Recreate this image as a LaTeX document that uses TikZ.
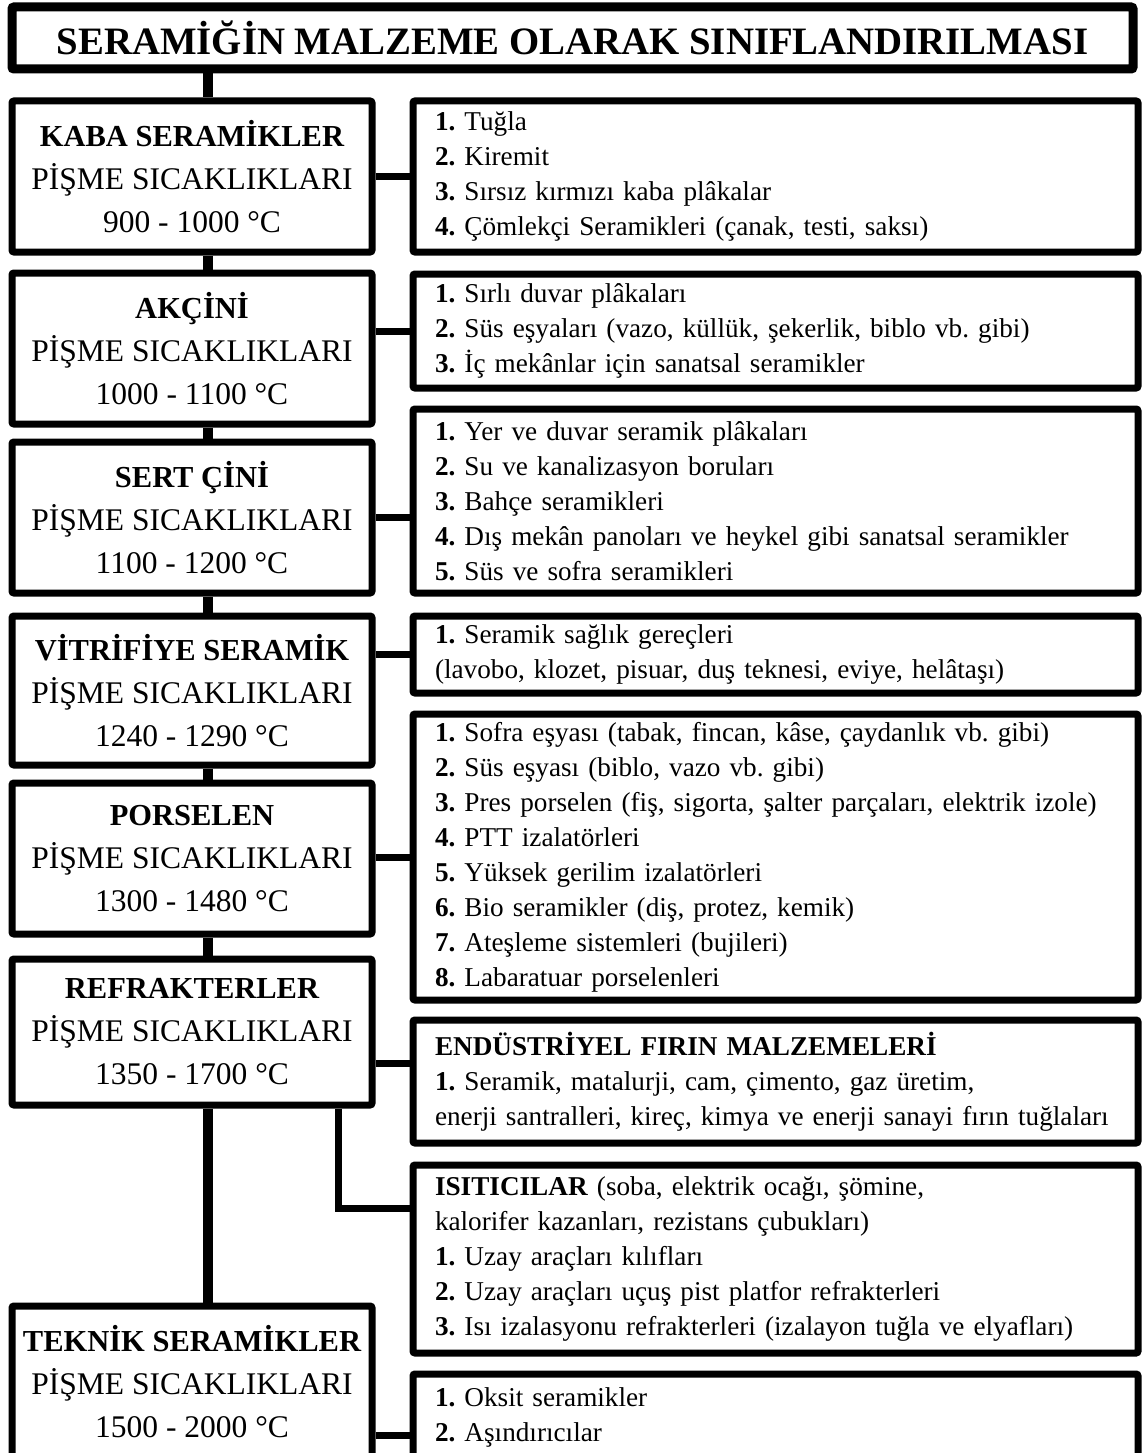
\documentclass[tikz,border=0pt]{standalone}
\usepackage{fontspec}
\setmainfont{Liberation Serif}
\usetikzlibrary{positioning}
\frenchspacing
\newcommand{\itemno}[1]{\textbf{#1.}~}

\begin{document}
\begin{tikzpicture}[x=1pt,y=-1pt,
  box/.style={draw=black,line width=7pt,fill=white,rounded corners=2pt,inner sep=0pt},
  kind/.style={box,minimum width=360pt,minimum height=151pt,align=center,font=\fontsize{31.5}{43}\selectfont},
  list/.style={box,minimum width=725pt,text width=681pt,inner xsep=22pt,align=left,font=\fontsize{27.2}{35}\selectfont},
  link/.style={line width=7pt},
  trunk/.style={line width=10pt}]
\useasboundingbox (0,0) rectangle (1141,1453);
\newcommand{\kindname}[1]{{\bfseries\fontsize{30.5}{43}\selectfont #1}}
\node [box,line width=9pt,minimum width=1121pt,minimum height=62pt,font=\bfseries\fontsize{38.8}{40}\selectfont] (title) at (572.5,38) {SERAMİĞİN MALZEME OLARAK SINIFLANDIRILMASI};
\node [kind] (kaba) at (192,176.5) {\kindname{KABA SERAMİKLER}\\PİŞME SICAKLIKLARI\\900 - 1000 °C};
\node [kind] (akcini) at (192,348.5) {\kindname{AKÇİNİ}\\PİŞME SICAKLIKLARI\\1000 - 1100 °C};
\node [kind] (sert) at (192,517.5) {\kindname{SERT ÇİNİ}\\PİŞME SICAKLIKLARI\\1100 - 1200 °C};
\node [kind,minimum height=149pt] (vitri) at (192,690.5) {\kindname{VİTRİFİYE SERAMİK}\\PİŞME SICAKLIKLARI\\1240 - 1290 °C};
\node [kind] (pors) at (192,858.5) {\kindname{PORSELEN}\\PİŞME SICAKLIKLARI\\1300 - 1480 °C};
\node [kind,minimum height=146pt] (refr) at (192,1032) {\kindname{REFRAKTERLER}\\PİŞME SICAKLIKLARI\\1350 - 1700 °C};
\node [kind,minimum height=152pt] (tekn) at (192,1382) {\kindname{TEKNİK SERAMİKLER}\\PİŞME SICAKLIKLARI\\1500 - 2000 °C};
\node [list,minimum height=151pt] (r1) at (775.5,176.5) {\itemno{1}Tuğla\\\itemno{2}Kiremit\\\itemno{3}Sırsız kırmızı kaba plâkalar\\\itemno{4}Çömlekçi Seramikleri (çanak, testi, saksı)};
\node [list,minimum height=114pt] (r2) at (775.5,331) {\itemno{1}Sırlı duvar plâkaları\\\itemno{2}Süs eşyaları (vazo, küllük, şekerlik, biblo vb. gibi)\\\itemno{3}İç mekânlar için sanatsal seramikler};
\node [list,minimum height=184pt] (r3) at (775.5,501) {\itemno{1}Yer ve duvar seramik plâkaları\\\itemno{2}Su ve kanalizasyon boruları\\\itemno{3}Bahçe seramikleri\\\itemno{4}Dış mekân panoları ve heykel gibi sanatsal seramikler\\\itemno{5}Süs ve sofra seramikleri};
\node [list,minimum height=77pt] (r4) at (775.5,654.5) {\itemno{1}Seramik sağlık gereçleri\\(lavobo, klozet, pisuar, duş teknesi, eviye, helâtaşı)};
\node [list,minimum height=286pt] (r5) at (775.5,857) {\itemno{1}Sofra eşyası (tabak, fincan, kâse, çaydanlık vb. gibi)\\\itemno{2}Süs eşyası (biblo, vazo vb. gibi)\\\itemno{3}Pres porselen (fiş, sigorta, şalter parçaları, elektrik izole)\\\itemno{4}PTT izalatörleri\\\itemno{5}Yüksek gerilim izalatörleri\\\itemno{6}Bio seramikler (diş, protez, kemik)\\\itemno{7}Ateşleme sistemleri (bujileri)\\\itemno{8}Labaratuar porselenleri};
\node [list,minimum height=123pt] (r6) at (775.5,1081.5) {\textbf{ENDÜSTRİYEL FIRIN MALZEMELERİ}\\\itemno{1}Seramik, matalurji, cam, çimento, gaz üretim,\\enerji santralleri, kireç, kimya ve enerji sanayi fırın tuğlaları};
\node [list,minimum height=188pt] (r7) at (775.5,1259) {\textbf{ISITICILAR} (soba, elektrik ocağı, şömine,\\kalorifer kazanları, rezistans çubukları)\\\itemno{1}Uzay araçları kılıfları\\\itemno{2}Uzay araçları uçuş pist platfor refrakterleri\\\itemno{3}Isı izalasyonu refrakterleri (izalayon tuğla ve elyafları)};
\node [list,minimum height=86pt] (r8) at (775.5,1417) {\itemno{1}Oksit seramikler\\\itemno{2}Aşındırıcılar};
\draw [trunk] ([xshift=16pt]kaba.north |- title.south) -- ([xshift=16pt]kaba.north);
\foreach \a/\b in {kaba/akcini,akcini/sert,sert/vitri,vitri/pors,pors/refr,refr/tekn}
  \draw [trunk] ([xshift=16pt]\a.south) -- ([xshift=16pt]\b.north);
\draw [link] (kaba.east) -- (r1.west);
\draw [link] (akcini.east |- r2.west) -- (r2.west);
\draw [link] (sert.east) -- (sert.east -| r3.west);
\draw [link] (vitri.east |- r4.west) -- (r4.west);
\draw [link] (pors.east |- r5.west) -- (r5.west);
\coordinate (c6) at ([yshift=-31pt]refr.east);
\draw [link] (c6) -- (c6 -| r6.west);
\draw [link] ([xshift=-37.5pt]refr.south east) |- ([yshift=51pt]r7.west);
\coordinate (c8) at ([yshift=-53pt]tekn.east);
\draw [link] (c8) -- (c8 -| r8.west);
\end{tikzpicture}
\end{document}
